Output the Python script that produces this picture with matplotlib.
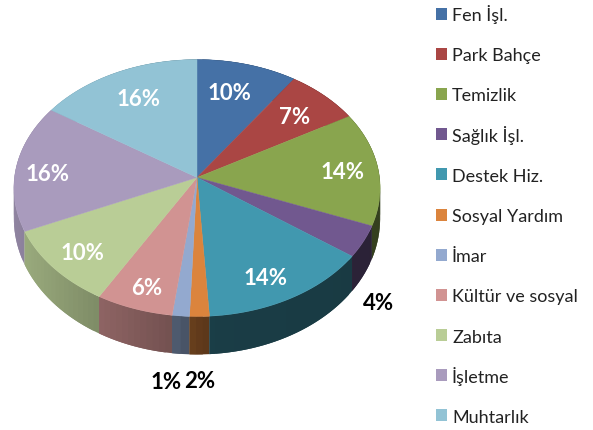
import numpy as np
import matplotlib
matplotlib.use("Agg")
import matplotlib.pyplot as plt
from matplotlib.colors import to_rgb
from matplotlib.patches import Polygon, Rectangle

# data
birimler = ["Fen İşl.", "Park Bahçe", "Temizlik", "Sağlık İşl.", "Destek Hiz.",
            "Sosyal Yardım", "İmar", "Kültür ve sosyal", "Zabıta", "İşletme", "Muhtarlık"]
yuzdeler = [9.6, 7.1, 14.3, 4, 14, 1.6, 1.4, 6.3, 10, 16, 15.7]
renkler = ["#4571a6", "#aa4644", "#89a54e", "#71588f", "#4198af", "#db843d",
           "#93a9cf", "#d19392", "#b9cd96", "#a99bbd", "#92c3d5"]

# pie geometry in pixels, the far side of the disc is foreshortened
CX, CY = 197, 178.5
RX, RY = 182.5, 127.6
K = 0.0817


def kenar(oran):
    # point on the rim for a fraction of the circle, clockwise from the top
    t = 2 * np.pi * np.asarray(oran)
    u, v = np.sin(t), np.cos(t)
    d = 1 + K * v
    return CX + RX * u / d, CY - RY * v / d, v


def golge(x):
    # wall gets darker from left to right
    return np.interp(x, [14, 100, 172, 197, 215, 380], [0.85, 0.68, 0.55, 0.45, 0.4, 0.38])


fig = plt.figure(figsize=(5.93, 4.31), dpi=100)
ax = fig.add_axes([0, 0, 1, 1])
ax.set_xlim(0, 593)
ax.set_ylim(431, 0)
ax.axis("off")

toplam = sum(yuzdeler)
sinirlar = np.cumsum([0] + yuzdeler) / toplam

# side wall first, strips overlap so no seams show
for i, renk in enumerate(renkler):
    a, b = sinirlar[i], sinirlar[i + 1]
    n = max(2, int((b - a) * 200))
    oranlar = np.linspace(a, b, n + 1)
    x, y, v = kenar(oranlar)
    taban = y + 30 + 8 * np.clip(-v, 0, 1)
    base = np.array(to_rgb(renk))
    for j in range(n):
        c = base * golge((x[j] + x[j + 1]) / 2)
        son = min(j + 2, n)
        ust = list(zip(x[j:son + 1], y[j:son + 1]))
        alt = list(zip(x[j:son + 1], taban[j:son + 1]))[::-1]
        ax.add_patch(Polygon(ust + alt, facecolor=c, edgecolor="none", zorder=2 + j * 0.0001))

# top of the pie
for i, renk in enumerate(renkler):
    oranlar = np.linspace(sinirlar[i], sinirlar[i + 1], 60)
    x, y, v = kenar(oranlar)
    noktalar = [(CX, CY)] + list(zip(x, y))
    ax.add_patch(Polygon(noktalar, facecolor=renk, edgecolor=renk, linewidth=0.3, zorder=3))

# percent labels
ic_etiket = {0: (229, 94), 1: (295, 118), 2: (343, 173), 4: (266, 279),
             7: (147, 289), 8: (82, 254), 9: (48, 175), 10: (139, 100)}
dis_etiket = {3: (379, 304), 5: (200, 382), 6: (166, 383)}
for i, (x, y) in ic_etiket.items():
    ax.text(x, y, f"{round(yuzdeler[i])}%", color="white", fontsize=16, fontweight="bold",
            family="Lato", ha="center", va="center", zorder=4)
for i, (x, y) in dis_etiket.items():
    ax.text(x, y, f"{round(yuzdeler[i])}%", color="black", fontsize=16, fontweight="bold",
            family="Lato", ha="center", va="center", zorder=4)

# legend by hand, the built-in one spaces the rows with İ unevenly
for i, (birim, renk) in enumerate(zip(birimler, renkler)):
    y = 14.5 + 40.2 * i
    ax.add_patch(Rectangle((436, y - 6), 11, 12, facecolor=renk, edgecolor="none"))
    ax.text(452, y + 6.5, birim, color="#222222", fontsize=13, family="Lato", ha="left", va="baseline")

fig.savefig("out.png", dpi=100)
